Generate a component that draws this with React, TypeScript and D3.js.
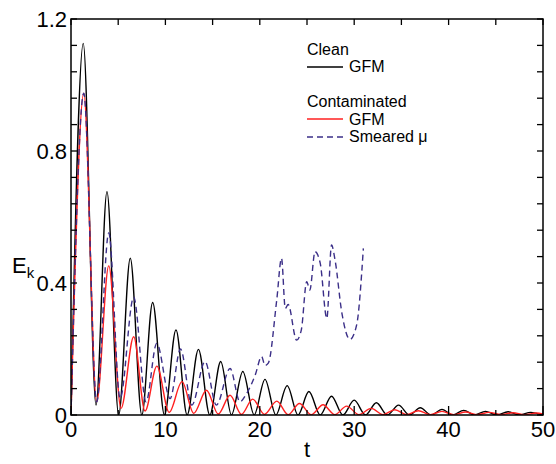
import React from 'react';
import * as d3 from 'd3';

// Clean, GFM (black) - peaks and troughs
const cleanT = [0, 1.3, 2.65, 3.81, 5.05, 6.28, 7.5, 8.65, 9.9, 11.12, 12.3, 13.5, 14.7, 15.86, 17.0, 18.2, 19.4, 20.55, 21.7, 22.9, 24.05, 25.2, 26.4, 27.6, 28.8, 30.0, 31.2, 32.35, 33.5, 34.7, 35.85, 37.0, 38.15, 39.3, 40.45, 41.6, 42.75, 43.9, 45.1, 46.3, 47.5, 48.7, 49.9];
const cleanE = [0, 1.126, 0.03, 0.677, 0, 0.475, 0, 0.341, 0, 0.258, 0, 0.199, 0, 0.162, 0, 0.132, 0, 0.108, 0, 0.089, 0, 0.071, 0, 0.057, 0, 0.045, 0, 0.037, 0, 0.03, 0, 0.022, 0, 0.017, 0, 0.014, 0, 0.011, 0, 0.01, 0, 0.008, 0];

// Contaminated, GFM (red)
const contamT = [0, 1.35, 2.72, 4.0, 5.3, 6.64, 7.84, 9.1, 10.4, 11.76, 13.0, 14.35, 15.6, 16.85, 18.05, 19.25, 20.5, 21.8, 23.0, 24.2, 25.45, 26.7, 27.95, 29.2, 30.5, 31.8, 33.05, 34.3, 35.55, 36.8, 38.05, 39.3, 40.55, 41.8, 43.05, 44.3, 45.55, 46.8, 48.05, 49.3, 50];
const contamE = [0, 0.975, 0.04, 0.452, 0.02, 0.237, 0.012, 0.148, 0.008, 0.101, 0.005, 0.075, 0.003, 0.06, 0.002, 0.048, 0.002, 0.042, 0.001, 0.035, 0.001, 0.031, 0.001, 0.027, 0.001, 0.02, 0.001, 0.016, 0.001, 0.013, 0.001, 0.011, 0.001, 0.009, 0.001, 0.008, 0.001, 0.007, 0.001, 0.006, 0.003];

// Contaminated, smeared mu (dashed)
const smearT = [0, 1.35, 2.72, 4.0, 5.2, 6.64, 7.95, 9.08, 10.5, 11.6, 12.8, 14.2, 15.4, 16.85, 17.9, 18.5, 19.5, 20.2, 20.55, 20.9, 21.8, 22.3, 22.7, 23.0, 23.9, 24.4, 24.97, 25.3, 25.85, 26.4, 27.1, 27.6, 27.97, 28.7, 29.55, 30.26, 30.97];
const smearE = [0, 0.975, 0.04, 0.552, 0.05, 0.357, 0.04, 0.217, 0.05, 0.2, 0.03, 0.162, 0.03, 0.141, 0.04, 0.06, 0.12, 0.177, 0.15, 0.157, 0.35, 0.475, 0.323, 0.335, 0.227, 0.258, 0.404, 0.379, 0.495, 0.46, 0.293, 0.515, 0.47, 0.308, 0.229, 0.273, 0.505];

const xTickLabels = [0, 10, 20, 30, 40, 50];
const xMinorTicks = [5, 15, 25, 35, 45];
const yTickLabels = [0, 0.4, 0.8, 1.2];
const yMinorTicks = [0.08, 0.16, 0.24, 0.32, 0.48, 0.56, 0.64, 0.72, 0.88, 0.96, 1.04, 1.12];

const W = 556;
const H = 464;
const FONT = 'Liberation Sans, Arial, Helvetica, sans-serif';

export default function App() {
  const x = d3.scaleLinear().domain([0, 50]).range([71, 543]);
  const y = d3.scaleLinear().domain([0, 1.2]).range([415, 19]);
  const [x0, x1] = x.range();
  const [y0, y1] = y.range();

  const line = d3.line<[number, number]>()
    .x(d => x(d[0]))
    .y(d => y(d[1]))
    .curve(d3.curveMonotoneX);

  const zip = (t: number[], e: number[]) => t.map((v, i) => [v, e[i]] as [number, number]);

  const series = [
    { d: zip(cleanT, cleanE), color: '#000000', dash: null },
    { d: zip(contamT, contamE), color: '#ff2020', dash: null },
    { d: zip(smearT, smearE), color: '#3b2f88', dash: '6,4' },
  ];

  const majorX = xTickLabels;
  const allX = [...xTickLabels, ...xMinorTicks];
  const allY = [...yTickLabels, ...yMinorTicks];

  return (
    <svg width={W} height={H} style={{ position: 'absolute', left: 0, top: 0, background: '#fff' }} fontFamily={FONT}>
      <defs>
        <clipPath id="plot">
          <rect x={x0} y={y1} width={x1 - x0} height={y0 - y1} />
        </clipPath>
      </defs>

      <g clipPath="url(#plot)">
        {series.map((s, i) => (
          <path key={i} d={line(s.d) || ''} fill="none" stroke={s.color} strokeWidth={1.4}
            strokeDasharray={s.dash || undefined} />
        ))}
      </g>

      {/* ticks, pointing inward */}
      <g stroke="#000" strokeWidth={1.3}>
        {allX.map(t => (
          <g key={'x' + t}>
            <line x1={x(t)} x2={x(t)} y1={y0} y2={y0 - (majorX.includes(t) ? 9 : 5)} />
            <line x1={x(t)} x2={x(t)} y1={y1} y2={y1 + 6} />
          </g>
        ))}
        {allY.map(v => (
          <g key={'y' + v}>
            <line x1={x0} x2={x0 + 6} y1={y(v)} y2={y(v)} />
            <line x1={x1} x2={x1 - 6} y1={y(v)} y2={y(v)} />
          </g>
        ))}
      </g>

      <rect x={x0} y={y1} width={x1 - x0} height={y0 - y1} fill="none" stroke="#000" strokeWidth={1.5} />

      {xTickLabels.map(t => (
        <text key={'xl' + t} x={x(t)} y={437} textAnchor="middle" fontSize={22}>{t}</text>
      ))}
      {yTickLabels.map(v => (
        <text key={'yl' + v} x={67} y={y(v)} dy="0.36em" textAnchor="end" fontSize={22}>
          {v === 0 ? '0' : v.toFixed(1)}
        </text>
      ))}

      <text x={307} y={457} textAnchor="middle" fontSize={22}>t</text>
      <text x={12} y={273} fontSize={22}>E<tspan fontSize={15} dy={5}>k</tspan></text>

      {/* legend */}
      <g fontSize={16}>
        <text x={307} y={55}>Clean</text>
        <line x1={307} x2={343} y1={67} y2={67} stroke="#000" strokeWidth={1.4} />
        <text x={349} y={72}>GFM</text>
        <text x={307} y={107}>Contaminated</text>
        <line x1={307} x2={343} y1={119} y2={119} stroke="#ff2020" strokeWidth={1.4} />
        <text x={349} y={125}>GFM</text>
        <line x1={307} x2={343} y1={137} y2={137} stroke="#3b2f88" strokeWidth={1.4} strokeDasharray="6,4" />
        <text x={349} y={142}>Smeared μ</text>
      </g>
    </svg>
  );
}
